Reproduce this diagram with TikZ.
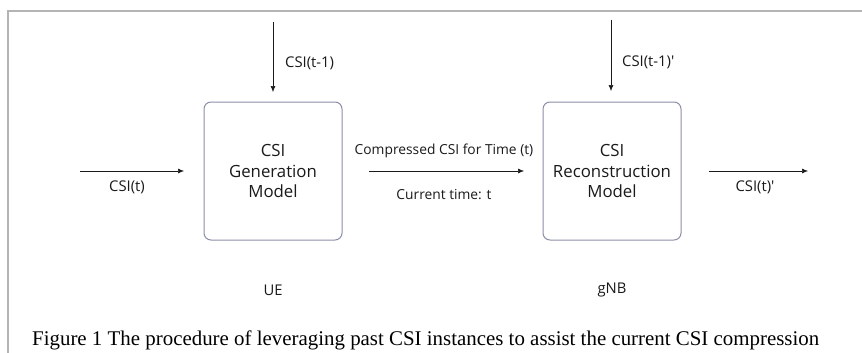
\documentclass[tikz,border=0pt]{standalone}
\usepackage{fontspec}
\setmainfont{Liberation Serif}
\newfontfamily\diagfont{Open Sans}
\usetikzlibrary{arrows.meta}
\definecolor{frame}{HTML}{B4B4B4}
\definecolor{boxline}{HTML}{8C8FA8}
\definecolor{ink}{HTML}{1A1A1A}
\tikzset{
  model/.style={draw=boxline, line width=1pt, rounded corners=7pt, minimum width=138pt, minimum height=138pt, align=center, font=\diagfont\fontsize{16.8}{20.5}\selectfont, text=ink, inner sep=0pt},
  lbl/.style={font=\diagfont\fontsize{14.8}{17}\selectfont, text=ink, inner sep=0pt},
  midlbl/.style={font=\diagfont\fontsize{13.8}{16}\selectfont, text=ink, inner sep=0pt},
  flow/.style={draw=ink, line width=0.6pt, -{Latex[length=6pt,width=5pt]}},
}
\begin{document}
\begin{tikzpicture}[x={(1pt,0)}, y={(0,-1pt)}]
\useasboundingbox (0,0) rectangle (862,353);
\fill[white] (0,0) rectangle (862,353);
% outer frame
\draw[frame, line width=1.5pt] (8,400) -- (8,11) -- (880,11);
% models
\node[model] (gen) at (273,171) {CSI\\Generation\\Model};
\node[model] (rec) at (612,171) {CSI\\Reconstruction\\Model};
% coordinates
\coordinate (inL) at (80,171);
\coordinate (inLe) at (184,171);
\coordinate (genTop) at (273,22);
\coordinate (genTopE) at (273,92);
\coordinate (recTop) at (611,20);
\coordinate (recTopE) at (611,91);
\coordinate (midS) at (369,171);
\coordinate (midE) at (524,171);
\coordinate (outS) at (709,171);
\coordinate (outE) at (808,171);
% arrows
\draw[flow] (inL) -- (inLe);
\draw[flow] (genTop) -- (genTopE);
\draw[flow] (recTop) -- (recTopE);
\draw[flow] (midS) -- (midE);
\draw[flow] (outS) -- (outE);
% labels
\node[lbl, anchor=west] (l1) at (285,63) {CSI(t-1)};
\node[lbl, anchor=west] (l2) at (622,62) {CSI(t-1)'};
\node[lbl] (l3) at (127,187) {CSI(t)};
\node[midlbl] (l4) at (444,151) {Compressed CSI for Time (t)};
\node[midlbl] (l5) at (444,195) {Current time: t};
\node[lbl] (l6) at (755,187) {CSI(t)'};
\node[lbl] (ue) at (273,290) {UE};
\node[lbl] (gnb) at (612,290) {gNB};
\node[font=\fontsize{20.9}{24}\selectfont, inner sep=0pt, anchor=west] (cap) at (32,340) {Figure 1 The procedure of leveraging past CSI instances to assist the current CSI compression};
\end{tikzpicture}
\end{document}
